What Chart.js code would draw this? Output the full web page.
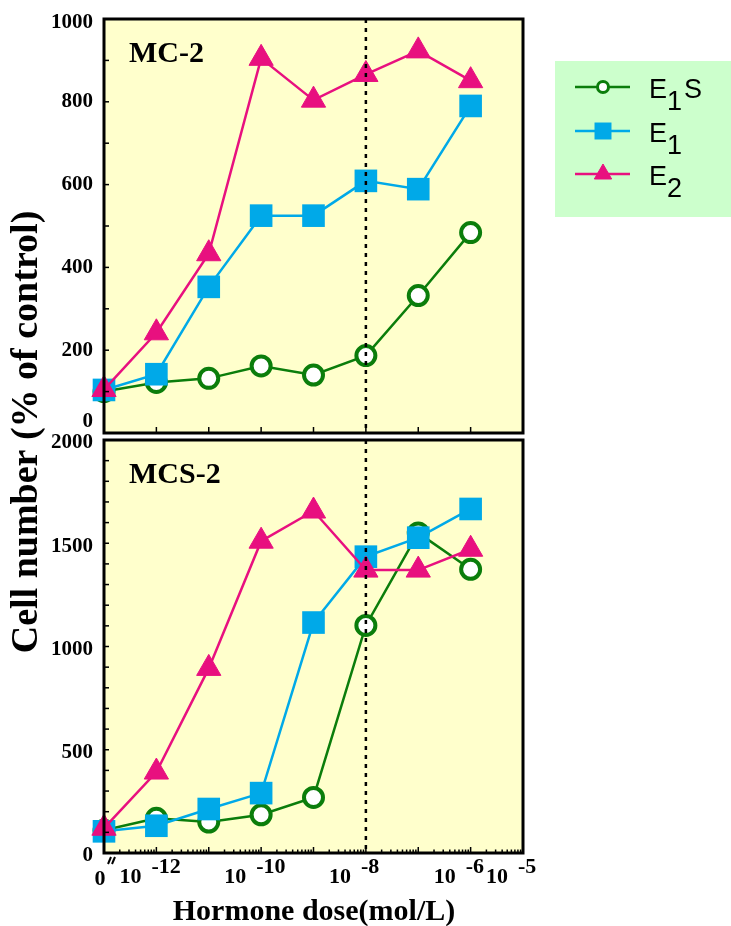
<!DOCTYPE html>
<html>
<head>
<meta charset="utf-8">
<script src="https://cdn.jsdelivr.net/npm/chart.js@4.4.0/dist/chart.umd.min.js"></script>
<style>
  body { margin: 0; background: #fff; }
  #wrap { position: relative; width: 731px; height: 926px; }
  canvas { position: absolute; left: 0; top: 0; }
</style>
</head>
<body>
<div id="wrap">
  <canvas id="mcsChart" width="731" height="926"></canvas>
  <canvas id="mcChart" width="731" height="926"></canvas>
</div>
<script>
// dose as log10(mol/L); the control (dose 0) sits one decade left of 10^-12
const doseLog = [-13, -12, -11, -10, -9, -8, -7, -6];
const xTickExp = [-12, -10, -8, -6, -5];

const seriesNames = ['E1S', 'E1', 'E2'];

// MC-2, cell number (% of control)
const mc2E1S = [100, 122, 132, 162, 140, 187, 332, 484];
const mc2E1 = [104, 142, 353, 525, 525, 609, 589, 790];
const mc2E2 = [105, 242, 433, 905, 804, 866, 923, 851];
const mc2Ticks = [0, 200, 400, 600, 800, 1000];

// MCS-2, cell number (% of control)
const mcs2E1S = [110, 168, 150, 185, 269, 1102, 1550, 1374];
const mcs2E1 = [105, 132, 213, 290, 1116, 1435, 1527, 1666];
const mcs2E2 = [120, 392, 894, 1510, 1656, 1370, 1370, 1471];
const mcs2Ticks = [0, 500, 1000, 1500, 2000];

const GREEN = '#0b7d0b', BLUE = '#00a9e8', PINK = '#e8107f';
const SERIF = '"Liberation Serif", "Times New Roman", serif';
const SANS = '"Liberation Sans", Arial, sans-serif';

function makeSets(e1s, e1, e2) {
  const pts = vals => vals.map((v, i) => ({ x: doseLog[i], y: v }));
  return [
    { label: seriesNames[0], data: pts(e1s), borderColor: GREEN, borderWidth: 2.5,
      pointStyle: 'circle', pointRadius: 9.5, pointBorderWidth: 4,
      pointBackgroundColor: '#fff', pointBorderColor: GREEN, order: 3, clip: false },
    { label: seriesNames[1], data: pts(e1), borderColor: BLUE, borderWidth: 2.5,
      pointStyle: 'rect', pointRadius: 16, pointBorderWidth: 0,
      pointBackgroundColor: BLUE, pointBorderColor: BLUE, order: 2, clip: false },
    { label: seriesNames[2], data: pts(e2), borderColor: PINK, borderWidth: 2.5,
      pointStyle: 'triangle', pointRadius: 14, pointBorderWidth: 1,
      pointBackgroundColor: PINK, pointBorderColor: PINK, order: 1, clip: false },
  ];
}

function line(ctx, x1, y1, x2, y2) {
  ctx.beginPath(); ctx.moveTo(x1, y1); ctx.lineTo(x2, y2); ctx.stroke();
}

// draws "E1S" style text with digits as same-size subscripts
function subText(ctx, txt, x, y, drop) {
  txt.split(/(\d+)/).filter(s => s).forEach(part => {
    const isSub = /^\d+$/.test(part);
    ctx.fillText(part, x, isSub ? y + drop : y);
    x += ctx.measureText(part).width + (isSub ? 2 : 0);
  });
}

const panelPlugin = {
  id: 'panel',
  beforeDatasetsDraw(chart) {
    const { ctx, chartArea: a } = chart;
    ctx.save();
    ctx.fillStyle = '#ffffcc';
    ctx.fillRect(a.left, a.top, a.right - a.left, a.bottom - a.top);
    ctx.restore();
  },
  afterDatasetsDraw(chart, args, o) {
    const { ctx, chartArea: a } = chart;
    const x = chart.scales.x, y = chart.scales.y;
    ctx.save();
    ctx.strokeStyle = '#000';
    ctx.fillStyle = '#000';

    // dotted line at 10^-8
    const xd = x.getPixelForValue(-8);
    ctx.lineWidth = 2.5;
    ctx.setLineDash([4, 5]);
    line(ctx, xd, a.top, xd, a.bottom);
    ctx.setLineDash([]);

    // inward tick marks
    ctx.lineWidth = 1.5;
    for (let v = 0; v <= o.yMax; v += o.yMinor) {
      const py = y.getPixelForValue(v);
      line(ctx, a.left, py, a.left + 5, py);
    }
    for (let e = -12; e <= -6; e++) {
      const px = x.getPixelForValue(e);
      line(ctx, px, a.bottom, px, a.bottom - 6);
    }
    if (o.logMinor) {
      for (let e = -13; e < -5; e++) {
        for (let k = 2; k <= 9; k++) {
          const px = x.getPixelForValue(e + Math.log10(k));
          line(ctx, px, a.bottom, px, a.bottom - 3.5);
        }
      }
    }

    // frame
    ctx.lineWidth = 3;
    ctx.strokeRect(a.left, a.top, a.right - a.left, a.bottom - a.top);

    // y tick labels
    ctx.font = 'bold 21px ' + SERIF;
    ctx.textAlign = 'right';
    ctx.textBaseline = 'middle';
    o.yTicks.forEach(v => {
      let py = y.getPixelForValue(v) + o.labelShift;
      py = Math.min(Math.max(py, a.top + o.labelInsetTop), a.bottom - o.labelInsetBottom);
      ctx.fillText(String(v), a.left - 11, py);
    });

    // panel name
    ctx.font = 'bold 30px ' + SERIF;
    ctx.textAlign = 'left';
    ctx.textBaseline = 'alphabetic';
    ctx.fillText(o.name, a.left + 25, a.top + 43);

    if (o.xAxis) {
      // x tick labels: 0 and powers of ten
      ctx.font = 'bold 22px ' + SERIF;
      const base = a.bottom + 30;
      ctx.textAlign = 'center';
      ctx.fillText('0', x.getPixelForValue(-13) - 4, base + 2);
      xTickExp.forEach(e => {
        const px = x.getPixelForValue(e);
        ctx.textAlign = 'right';
        ctx.fillText('10', px - 15, base);
        ctx.textAlign = 'left';
        ctx.fillText(String(e), px - 5, base - 10);
      });
      // axis break mark
      ctx.lineWidth = 2;
      const bx = x.getPixelForValue(-13) + 4;
      line(ctx, bx, a.bottom + 11, bx + 3, a.bottom + 4);
      line(ctx, bx + 4, a.bottom + 11, bx + 7, a.bottom + 4);

      // axis titles
      ctx.font = 'bold 30px ' + SERIF;
      ctx.textAlign = 'center';
      ctx.fillText('Hormone dose(mol/L)', 314, 920);
      ctx.save();
      ctx.translate(27, 432);
      ctx.rotate(-Math.PI / 2);
      ctx.font = 'bold 38px ' + SERIF;
      ctx.textBaseline = 'middle';
      ctx.fillText('Cell number (% of control)', 0, 0);
      ctx.restore();
    }

    if (o.legend) {
      ctx.fillStyle = '#ccffcc';
      ctx.fillRect(555, 61, 176, 156);
      const rows = [87, 131, 174];
      const mk = [{ radius: 5.5, borderWidth: 3 }, { radius: 12, borderWidth: 0 }, { radius: 10, borderWidth: 1 }];
      chart.data.datasets.forEach((ds, i) => {
        const ry = rows[i];
        ctx.strokeStyle = ds.borderColor;
        ctx.lineWidth = 2.5;
        line(ctx, 575, ry, 630, ry);
        ctx.fillStyle = ds.pointBackgroundColor;
        ctx.strokeStyle = ds.pointBorderColor;
        ctx.lineWidth = mk[i].borderWidth;
        Chart.helpers.drawPoint(ctx, { pointStyle: ds.pointStyle, rotation: 0,
          radius: mk[i].radius, borderWidth: mk[i].borderWidth }, 603, ry);
        ctx.fillStyle = '#000';
        ctx.font = '27px ' + SANS;
        ctx.textAlign = 'left';
        ctx.textBaseline = 'alphabetic';
        subText(ctx, ds.label, 649, ry + 11, 12);
      });
    }
    ctx.restore();
  }
};

function panelChart(id, sets, panel, pad) {
  return new Chart(document.getElementById(id), {
    type: 'line',
    data: { datasets: sets },
    options: {
      responsive: false,
      animation: false,
      layout: { padding: pad },
      scales: {
        x: { type: 'linear', display: false, min: -13, max: -5 },
        y: { type: 'linear', display: false, min: 0, max: panel.yMax }
      },
      plugins: { legend: { display: false }, tooltip: { enabled: false }, panel: panel }
    },
    plugins: [panelPlugin]
  });
}

panelChart('mcsChart', makeSets(mcs2E1S, mcs2E1, mcs2E2),
  { name: 'MCS-2', yMax: 2000, yMinor: 100, yTicks: mcs2Ticks, logMinor: true, xAxis: true,
    labelShift: 3, labelInsetTop: 3, labelInsetBottom: -4 },
  { left: 104, right: 208, top: 440, bottom: 73 });

panelChart('mcChart', makeSets(mc2E1S, mc2E1, mc2E2),
  { name: 'MC-2', yMax: 1000, yMinor: 100, yTicks: mc2Ticks, legend: true,
    labelShift: 0, labelInsetTop: 4, labelInsetBottom: 11 },
  { left: 104, right: 208, top: 19, bottom: 493 });
</script>
</body>
</html>
